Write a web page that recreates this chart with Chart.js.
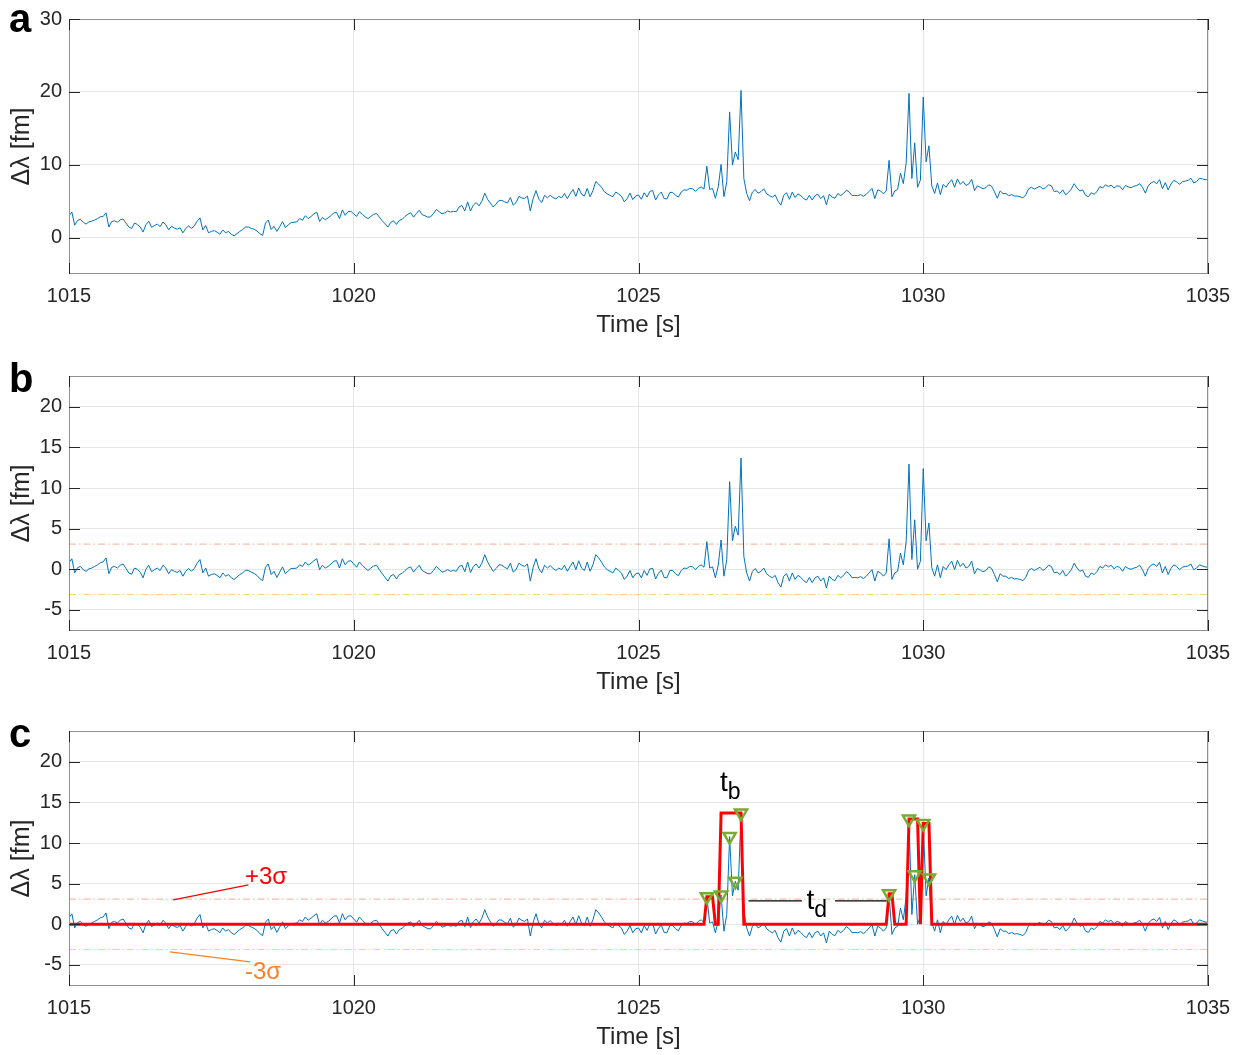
<!DOCTYPE html>
<html lang="en">
<head>
<meta charset="UTF-8">
<title>Δλ traces</title>
<script src="https://cdn.jsdelivr.net/npm/chart.js"></script>
<style>
  body { margin: 0; background: #fff; }
  .panel { position: absolute; left: 0; width: 1246px; height: 340px; }
</style>
</head>
<body>
<div class="panel" style="top:0"><canvas id="chartA" width="1246" height="340"></canvas></div>
<div class="panel" style="top:357px"><canvas id="chartB" width="1246" height="340"></canvas></div>
<div class="panel" style="top:712px"><canvas id="chartC" width="1246" height="340"></canvas></div>
<script>
// sampling of the traces
const tStart = 1015;
const tStep = 0.05;

// Δλ as measured, one row per second
const rawShift = [
  3.0, 3.5, 1.7, 2.35, 2.5, 2.1, 1.85, 2.15, 2.25, 2.4, 2.6, 2.85, 2.9, 3.4, 1.45, 2.2, 2.3, 2.1, 2.45, 2.55,
  2.0, 1.45, 1.25, 2.0, 1.8, 1.45, 0.75, 1.75, 2.25, 1.4, 1.65, 1.85, 1.5, 2.15, 1.75, 1.05, 1.55, 1.3, 1.15, 1.35,
  0.65, 1.25, 1.6, 1.25, 1.6, 2.25, 2.7, 1.05, 1.65, 0.65, 0.85, 0.95, 0.75, 0.45, 1.05, 0.65, 0.85, 0.45, 0.25, 0.55,
  0.85, 1.1, 1.45, 1.45, 1.25, 1.15, 0.9, 0.55, 0.3, 2.0, 2.4, 1.1, 1.55, 0.85, 1.5, 2.2, 1.35, 1.75, 2.05, 2.1,
  2.15, 2.6, 2.4, 3.0, 2.6, 2.9, 3.25, 3.5, 2.2, 2.75, 2.45, 2.7, 3.0, 3.4, 3.45, 2.6, 3.8, 3.05, 3.55, 3.6,
  3.25, 2.9, 3.55, 3.2, 2.85, 2.6, 2.9, 3.2, 3.3, 2.8, 2.3, 1.9, 1.45, 2.1, 2.3, 1.8, 2.35, 2.5, 2.9, 3.2,
  3.4, 2.8, 3.3, 3.75, 3.15, 3.0, 2.8, 2.85, 3.3, 3.85, 3.55, 3.25, 3.4, 3.65, 3.5, 3.6, 3.55, 4.2, 4.4, 3.65,
  4.9, 3.65, 4.45, 4.8, 4.35, 5.0, 6.1, 5.25, 4.7, 4.2, 4.6, 5.1, 5.1, 4.9, 4.75, 5.5, 4.45, 4.8, 5.65, 5.45,
  5.35, 5.7, 3.65, 5.35, 6.45, 5.3, 4.8, 5.8, 5.45, 5.8, 5.5, 5.3, 5.65, 5.45, 6.05, 5.35, 6.0, 6.6, 5.65, 6.8,
  5.95, 5.7, 6.75, 5.6, 6.45, 7.7, 7.35, 6.9, 6.3, 6.0, 5.8, 5.6, 6.25, 6.0, 5.7, 4.9, 5.35, 6.1, 5.2, 5.7,
  5.85, 5.25, 6.15, 5.55, 6.35, 6.45, 5.15, 5.85, 6.25, 5.35, 5.3, 6.2, 6.2, 5.8, 5.55, 6.25, 6.55, 6.5, 6.75, 6.7,
  6.35, 6.75, 6.95, 6.65, 9.8, 6.6, 6.75, 5.4, 6.95, 10.05, 5.6, 7.65, 17.25, 9.95, 11.75, 10.7, 20.2, 8.1, 6.05, 5.05,
  6.25, 6.6, 6.1, 6.3, 6.7, 6.0, 5.75, 5.55, 5.85, 5.0, 4.45, 5.8, 6.15, 5.25, 6.25, 5.5, 6.0, 5.75, 5.35, 5.15,
  5.8, 5.15, 5.75, 5.95, 5.35, 5.75, 4.5, 5.95, 5.55, 5.4, 6.05, 5.75, 6.05, 6.5, 6.25, 5.75, 5.8, 5.75, 5.9, 5.65,
  5.95, 6.35, 6.75, 5.35, 6.55, 6.4, 6.0, 6.4, 10.6, 5.6, 6.4, 6.6, 8.85, 7.4, 10.25, 19.8, 8.1, 13.0, 6.9, 7.9,
  19.3, 10.4, 12.6, 7.1, 6.05, 7.5, 5.9, 7.3, 6.9, 7.5, 7.95, 6.9, 8.05, 7.3, 7.7, 7.15, 7.35, 8.0, 6.45, 7.1,
  6.9, 6.7, 6.85, 7.25, 7.05, 6.3, 5.4, 6.4, 6.05, 6.05, 5.75, 5.9, 5.7, 5.7, 5.6, 5.45, 5.85, 6.7, 6.9, 6.65,
  6.85, 7.05, 6.65, 6.85, 7.25, 7.1, 6.3, 6.4, 6.05, 6.55, 5.85, 6.2, 6.65, 7.4, 6.8, 6.4, 6.55, 5.8, 5.6, 6.15,
  5.95, 6.3, 7.0, 6.8, 7.25, 7.0, 7.2, 6.8, 7.1, 7.05, 6.55, 7.15, 6.95, 6.85, 7.05, 7.15, 7.4, 6.9, 6.1, 7.1,
  7.5, 7.7, 7.4, 7.95, 6.7, 7.55, 6.55, 7.35, 7.85, 7.65, 7.3, 7.65, 7.75, 7.85, 8.15, 7.5, 7.7, 8.15, 8.05, 7.95,
  7.95
];

// Δλ after baseline removal, same sampling
const detrended = [
  0.8, 1.3, -0.45, 0.2, 0.35, -0.05, -0.25, 0.05, 0.15, 0.35, 0.55, 0.8, 0.9, 1.4, -0.55, 0.25, 0.35, 0.15, 0.5, 0.65,
  0.1, -0.45, -0.6, 0.15, 0.0, -0.35, -1.05, 0.0, 0.5, -0.3, -0.05, 0.15, -0.15, 0.5, 0.15, -0.55, -0.05, -0.25, -0.4, -0.15,
  -0.85, -0.25, 0.1, -0.25, 0.1, 0.75, 1.2, -0.45, 0.15, -0.85, -0.65, -0.55, -0.75, -1.05, -0.45, -0.85, -0.65, -1.05, -1.25, -0.95,
  -0.65, -0.45, -0.1, -0.15, -0.35, -0.5, -0.75, -1.15, -1.4, 0.25, 0.65, -0.65, -0.25, -1.0, -0.35, 0.3, -0.55, -0.2, 0.1, 0.1,
  0.15, 0.55, 0.35, 0.9, 0.5, 0.75, 1.05, 1.3, -0.05, 0.5, 0.15, 0.35, 0.65, 1.0, 1.05, 0.15, 1.3, 0.55, 1.0, 1.05,
  0.65, 0.25, 0.9, 0.5, 0.15, -0.15, 0.15, 0.4, 0.5, -0.05, -0.55, -1.0, -1.45, -0.8, -0.65, -1.2, -0.65, -0.5, -0.15, 0.15,
  0.3, -0.35, 0.1, 0.5, -0.15, -0.35, -0.55, -0.55, -0.15, 0.35, 0.0, -0.35, -0.25, -0.05, -0.25, -0.15, -0.25, 0.35, 0.5, -0.3,
  0.9, -0.4, 0.35, 0.65, 0.15, 0.75, 1.8, 0.9, 0.3, -0.25, 0.1, 0.55, 0.5, 0.25, 0.05, 0.75, -0.35, -0.05, 0.75, 0.5,
  0.35, 0.65, -1.45, 0.25, 1.3, 0.1, -0.45, 0.5, 0.15, 0.45, 0.1, -0.15, 0.15, -0.05, 0.5, -0.25, 0.35, 0.9, -0.05, 1.05,
  0.15, -0.15, 0.9, -0.25, 0.55, 1.8, 1.4, 0.9, 0.3, -0.05, -0.25, -0.45, 0.15, -0.15, -0.45, -1.25, -0.85, -0.15, -1.05, -0.55,
  -0.45, -1.05, -0.15, -0.75, 0.05, 0.1, -1.2, -0.5, -0.1, -1.0, -1.05, -0.15, -0.15, -0.55, -0.8, -0.15, 0.15, 0.1, 0.35, 0.3,
  -0.05, 0.35, 0.55, 0.25, 3.4, 0.15, 0.3, -1.05, 0.5, 3.6, -0.85, 1.2, 10.8, 3.5, 5.3, 4.2, 13.7, 1.6, -0.45, -1.45,
  -0.25, 0.1, -0.45, -0.25, 0.15, -0.55, -0.85, -1.05, -0.75, -1.65, -2.2, -0.85, -0.55, -1.45, -0.45, -1.25, -0.75, -1.0, -1.4, -1.65,
  -1.0, -1.65, -1.05, -0.85, -1.45, -1.05, -2.3, -0.85, -1.25, -1.4, -0.75, -1.05, -0.75, -0.3, -0.55, -1.05, -1.0, -1.05, -0.9, -1.15,
  -0.85, -0.45, -0.05, -1.45, -0.25, -0.45, -0.85, -0.45, 3.75, -1.25, -0.45, -0.25, 2.0, 0.55, 3.4, 12.95, 1.2, 6.1, 0.0, 1.0,
  12.4, 3.5, 5.7, 0.2, -0.85, 0.55, -1.05, 0.35, -0.05, 0.55, 1.0, -0.05, 1.1, 0.35, 0.75, 0.15, 0.35, 1.0, -0.55, 0.1,
  -0.1, -0.3, -0.15, 0.3, 0.1, -0.65, -1.55, -0.55, -0.85, -0.85, -1.15, -1.0, -1.2, -1.15, -1.25, -1.4, -1.0, -0.15, 0.1, -0.15,
  0.05, 0.25, -0.15, 0.1, 0.5, 0.35, -0.45, -0.35, -0.65, -0.15, -0.85, -0.5, -0.05, 0.75, 0.15, -0.25, -0.1, -0.85, -1.0, -0.45,
  -0.65, -0.3, 0.35, 0.15, 0.55, 0.3, 0.5, 0.05, 0.35, 0.25, -0.25, 0.35, 0.1, 0.0, 0.15, 0.25, 0.5, -0.05, -0.85, 0.1,
  0.5, 0.65, 0.35, 0.85, -0.45, 0.35, -0.65, 0.1, 0.55, 0.35, -0.05, 0.25, 0.35, 0.4, 0.65, -0.05, 0.15, 0.55, 0.4, 0.3,
  0.25
];

// ±3σ detection levels
const sigmaLevels = [3.1, -3.1];

// event trace corners (time, height)
const eventTimes = [1015, 1026.15, 1026.20, 1026.30, 1026.35, 1026.40, 1026.45, 1026.80, 1026.85,
  1029.35, 1029.40, 1029.45, 1029.50, 1029.70, 1029.75, 1029.90, 1029.95, 1030.00, 1030.10, 1030.15, 1035];
const eventLevels = [0, 0, 3.4, 3.4, 0, 0, 13.7, 13.7, 0,
  0, 3.75, 3.75, 0, 0, 12.95, 12.95, 0, 12.4, 12.4, 0, 0];

// detected peaks
const peakTimes = [1026.20, 1026.45, 1026.60, 1026.70, 1026.80, 1029.40, 1029.75, 1029.85, 1030.00, 1030.10];

const xTicks = [1015, 1020, 1025, 1030, 1035];
const yTicksA = [0, 10, 20, 30];
const yTicksBC = [-5, 0, 5, 10, 15, 20];

Chart.defaults.font.family = "'Liberation Sans', Arial, Helvetica, sans-serif";
Chart.defaults.color = '#262626';

const INK = '#262626';
const GRID = '#e6e6e6';
const FONT = "'Liberation Sans', Arial, sans-serif";

const toPoints = vals => vals.map((y, i) => ({ x: tStart + i * tStep, y }));
const sampleAt = (vals, t) => vals[Math.round((t - tStart) / tStep)];

// axes box, inward tick marks, panel letter and text notes
const frame = {
  id: 'frame',
  afterDraw(chart, args, opts) {
    const { ctx, chartArea: a, scales: { x, y } } = chart;
    ctx.save();
    ctx.lineWidth = 1;
    ctx.strokeStyle = '#8f8f8f';
    ctx.strokeRect(a.left + 0.5, a.top + 0.5, a.right - a.left - 1, a.bottom - a.top - 1);

    ctx.strokeStyle = INK;
    ctx.beginPath();
    x.ticks.forEach(t => {
      const px = Math.round(x.getPixelForValue(t.value)) + 0.5;
      ctx.moveTo(px, a.bottom); ctx.lineTo(px, a.bottom - 11);
      ctx.moveTo(px, a.top); ctx.lineTo(px, a.top + 11);
    });
    y.ticks.forEach(t => {
      const py = Math.round(y.getPixelForValue(t.value)) + 0.5;
      ctx.moveTo(a.left, py); ctx.lineTo(a.left + 11, py);
      ctx.moveTo(a.right, py); ctx.lineTo(a.right - 11, py);
    });
    ctx.stroke();

    ctx.fillStyle = '#000';
    ctx.font = 'bold 40px ' + FONT;
    ctx.textBaseline = 'alphabetic';
    ctx.fillText(opts.letter, 9, opts.letterY);

    (opts.lines || []).forEach(l => {
      ctx.strokeStyle = l.color;
      ctx.lineWidth = 1.3;
      ctx.beginPath();
      ctx.moveTo(x.getPixelForValue(l.from[0]), y.getPixelForValue(l.from[1]));
      ctx.lineTo(x.getPixelForValue(l.to[0]), y.getPixelForValue(l.to[1]));
      ctx.stroke();
    });
    (opts.labels || []).forEach(l => {
      let px = x.getPixelForValue(l.at[0]);
      const py = y.getPixelForValue(l.at[1]);
      ctx.fillStyle = l.color;
      ctx.font = l.size + 'px ' + FONT;
      ctx.fillText(l.text, px, py);
      if (l.sub) {
        px += ctx.measureText(l.text).width;
        ctx.font = l.subSize + 'px ' + FONT;
        ctx.fillText(l.sub, px, py + l.subDrop);
      }
    });
    ctx.restore();
  }
};

function axes(yMin, yMax, yTicks) {
  return {
    x: {
      type: 'linear', min: 1015, max: 1035,
      afterBuildTicks: s => { s.ticks = xTicks.map(v => ({ value: v })); },
      afterFit: s => { s.height = 66; },
      ticks: { font: { size: 20 }, color: INK, padding: 10, maxRotation: 0, autoSkip: false, callback: v => String(v) },
      grid: { color: GRID, drawTicks: false },
      border: { display: false },
      title: { display: true, text: 'Time [s]', font: { size: 24 }, color: INK, padding: { top: 0, bottom: 0 } }
    },
    y: {
      type: 'linear', min: yMin, max: yMax,
      afterBuildTicks: s => { s.ticks = yTicks.map(v => ({ value: v })); },
      afterFit: s => { s.width = 69; },
      ticks: { font: { size: 20 }, color: INK, padding: 7, callback: v => String(v) },
      grid: { color: GRID, drawTicks: false },
      border: { display: false },
      title: { display: true, text: 'Δλ [fm]', font: { size: 25 }, color: INK, padding: { top: 7, bottom: 0 } }
    }
  };
}

function traceSet(vals) {
  return { data: toPoints(vals), borderColor: '#0072BD', borderWidth: 1, pointRadius: 0, tension: 0, order: 2 };
}

function sigmaSets() {
  const colors = ['rgba(232,120,80,0.6)', 'rgba(243,190,70,0.7)'];
  return sigmaLevels.map((s, i) => ({
    data: [{ x: 1015, y: s }, { x: 1035, y: s }],
    borderColor: colors[i], borderWidth: 1, borderDash: [7, 3, 1.5, 3],
    pointRadius: 0, order: 3
  }));
}

function baseOptions(scales, frameOpts) {
  return {
    responsive: false,
    animation: false,
    events: [],
    devicePixelRatio: 1,
    layout: { padding: { top: 16, right: 38, left: 0, bottom: 0 } },
    scales,
    plugins: { legend: { display: false }, tooltip: { enabled: false }, frame: frameOpts }
  };
}

new Chart(document.getElementById('chartA'), {
  type: 'line',
  data: { datasets: [traceSet(rawShift)] },
  options: baseOptions(axes(-5, 30, yTicksA), { letter: 'a', letterY: 32 }),
  plugins: [frame]
});

new Chart(document.getElementById('chartB'), {
  type: 'line',
  data: { datasets: [traceSet(detrended), ...sigmaSets()] },
  options: baseOptions(axes(-7.6, 23.8, yTicksBC), { letter: 'b', letterY: 35 }),
  plugins: [frame]
});

new Chart(document.getElementById('chartC'), {
  type: 'line',
  data: {
    datasets: [
      {
        data: peakTimes.map(t => ({ x: t, y: sampleAt(detrended, t) })),
        showLine: false, pointStyle: 'triangle', rotation: 180, pointRadius: 7,
        pointBorderColor: '#77AC30', pointBackgroundColor: 'rgba(0,0,0,0)', pointBorderWidth: 2.5, order: 0
      },
      {
        data: eventTimes.map((t, i) => ({ x: t, y: eventLevels[i] })),
        borderColor: '#ff0000', borderWidth: 3, pointRadius: 0, tension: 0, order: 1
      },
      traceSet(detrended),
      ...sigmaSets()
    ]
  },
  options: baseOptions(axes(-7.6, 23.8, yTicksBC), {
    letter: 'c', letterY: 35,
    lines: [
      { from: [1016.83, 3.0], to: [1018.15, 4.84], color: '#ff0000' },
      { from: [1016.77, -3.41], to: [1018.18, -4.63], color: '#ff7f27' },
      { from: [1026.93, 2.89], to: [1027.87, 2.89], color: '#000' },
      { from: [1028.45, 2.89], to: [1029.36, 2.89], color: '#000' }
    ],
    labels: [
      { text: '+3σ', at: [1018.09, 5.0], size: 24, color: '#ff0000' },
      { text: '-3σ', at: [1018.09, -6.7], size: 24, color: '#ff7f27' },
      { text: 't', sub: 'b', at: [1026.43, 16.4], size: 28, subSize: 23, subDrop: 8, color: '#000' },
      { text: 't', sub: 'd', at: [1027.95, 1.83], size: 28, subSize: 23, subDrop: 8, color: '#000' }
    ]
  }),
  plugins: [frame]
});
</script>
</body>
</html>
